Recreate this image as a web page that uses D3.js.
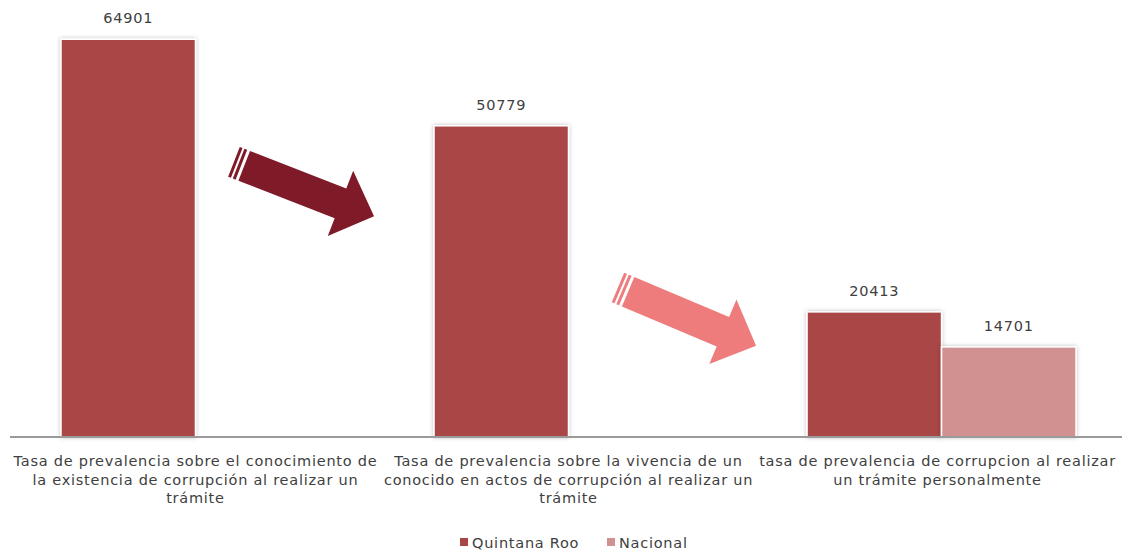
<!DOCTYPE html>
<html>
<head>
<meta charset="utf-8">
<script src="https://cdn.jsdelivr.net/npm/d3@7"></script>
<style>
  html, body { margin: 0; padding: 0; background: #fff; }
  svg { display: block; font-family: "DejaVu Sans", sans-serif; letter-spacing: 0.75px; }
</style>
</head>
<body>
<svg id="chart" width="1122" height="553"></svg>
<script>
// Category labels (line breaks marked with \n)
const categories = [
  "Tasa de prevalencia sobre el conocimiento de\nla existencia de corrupción al realizar un\ntrámite",
  "Tasa de prevalencia sobre la vivencia de un\nconocido en actos de corrupción al realizar un\ntrámite",
  "tasa de prevalencia de corrupcion al realizar\nun trámite personalmente"
];
const seriesNames = ["Quintana Roo", "Nacional"];
const quintanaRoo = [64901, 50779, 20413];
const nacional = [null, null, 14701];
const seriesColors = ["#A84645", "#D29191"];
const arrowColors = ["#7F1A28", "#EE7C7C"];

const svg = d3.select("#chart");
const W = 1122, H = 553;
const margin = { left: 10, right: -5, top: 8, bottom: 116 };
const baseY = H - margin.bottom;
const fontSize = 14.5;

const x0 = d3.scaleBand()
  .domain(categories)
  .range([margin.left, W - margin.right])
  .paddingInner(0.279)
  .paddingOuter(0.1367);

const x1 = d3.scaleBand()
  .domain(seriesNames)
  .range([0, x0.bandwidth()])
  .padding(0);

const y = d3.scaleLinear().domain([0, 70000]).range([baseY, margin.top]);

const defs = svg.append("defs");
const shadow = defs.append("filter").attr("id", "shadow")
  .attr("x", "-10%").attr("y", "-10%").attr("width", "120%").attr("height", "120%");
shadow.append("feDropShadow")
  .attr("dx", 0).attr("dy", 0).attr("stdDeviation", 2)
  .attr("flood-color", "#000").attr("flood-opacity", 0.25);

const rows = categories.map((c, i) => ({
  cat: c,
  values: [
    { s: seriesNames[0], v: quintanaRoo[i], color: seriesColors[0] },
    { s: seriesNames[1], v: nacional[i], color: seriesColors[1] }
  ].filter(d => d.v != null)
}));

const groups = svg.append("g").selectAll("g")
  .data(rows).join("g")
  .attr("transform", d => `translate(${x0(d.cat)},0)`);

groups.selectAll("rect")
  .data(d => d.values).join("rect")
  .attr("x", d => x1(d.s))
  .attr("y", d => y(d.v))
  .attr("width", x1.bandwidth())
  .attr("height", d => baseY - y(d.v))
  .attr("fill", d => d.color)
  .attr("stroke", "#fff")
  .attr("stroke-width", 1.5)
  .attr("filter", "url(#shadow)");

groups.selectAll("text.val")
  .data(d => d.values).join("text")
  .attr("class", "val")
  .attr("x", d => x1(d.s) + x1.bandwidth() / 2)
  .attr("y", d => y(d.v) - 16)
  .attr("text-anchor", "middle")
  .attr("font-size", fontSize)
  .attr("fill", "#404040")
  .text(d => d.v);

// Category axis
const xAxis = d3.axisBottom(x0).tickSize(0).tickFormat("");
const axisG = svg.append("g").attr("transform", `translate(0,${baseY})`).call(xAxis);
axisG.select(".domain").attr("stroke", "#9a9a9a").attr("stroke-width", 2)
  .attr("d", `M${margin.left},0H${W}`);

const labelX = (d, i) => x0(d) + x0.bandwidth() / 2 + (i === 2 ? -4 : 0);
svg.append("g").selectAll("text")
  .data(categories).join("text")
  .attr("y", baseY + 29)
  .attr("text-anchor", "middle")
  .attr("font-size", fontSize)
  .attr("fill", "#404040")
  .each(function (d, i) {
    const t = d3.select(this);
    d.split("\n").forEach((line, k) => {
      t.append("tspan")
        .attr("x", labelX(d, i))
        .attr("dy", k === 0 ? 0 : 18.5)
        .text(line);
    });
  });

// Striped block arrows drawn along the tail→tip direction
function stripedArrow(g, len, shaftW, headW, headL, color) {
  const sw = shaftW / 2, hw = headW / 2;
  const bodyStart = 11;
  g.append("path")
    .attr("d", `M${bodyStart},${-sw}L${len - headL},${-sw}L${len - headL},${-hw}L${len},0L${len - headL},${hw}L${len - headL},${sw}L${bodyStart},${sw}Z`)
    .attr("fill", color);
  [[0, 3], [5, 3]].forEach(([sx, w]) => {
    g.append("rect").attr("x", sx).attr("y", -sw).attr("width", w).attr("height", shaftW)
      .attr("fill", color);
  });
}

function placeArrow(tailX, tailY, tipX, tipY, color, shaftW, headW, headL) {
  const dx = tipX - tailX, dy = tipY - tailY;
  const len = Math.hypot(dx, dy);
  const ang = Math.atan2(dy, dx) * 180 / Math.PI;
  const g = svg.append("g").attr("transform", `translate(${tailX},${tailY}) rotate(${ang})`);
  stripedArrow(g, len, shaftW, headW, headL, color);
}
// Arrows sit in the gaps between neighbouring groups
const end0 = x0(categories[0]) + x0.bandwidth();
const start1 = x0(categories[1]);
const end1 = x0(categories[1]) + x0.bandwidth();
const start2 = x0(categories[2]);
placeArrow(end0 - 96, y(44900), start1 - 60, y(36000), arrowColors[0], 32, 70, 36);
placeArrow(end1 - 85, y(24400), start2 - 51, y(14900), arrowColors[1], 32, 70, 36);

// Legend
const legend = svg.append("g").attr("transform", `translate(460,542)`);
const legendItems = legend.selectAll("g").data(seriesNames).join("g")
  .attr("transform", (d, i) => `translate(${i === 0 ? 0 : 147},0)`);
legendItems.append("rect").attr("x", 0).attr("y", -4).attr("width", 8).attr("height", 8)
  .attr("fill", (d, i) => seriesColors[i]);
legendItems.append("text").attr("x", 12).attr("y", 5.5)
  .attr("font-size", fontSize).attr("fill", "#404040").text(d => d);
</script>
</body>
</html>
